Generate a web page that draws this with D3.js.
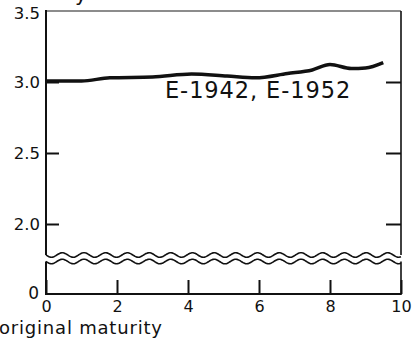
<!DOCTYPE html>
<html>
<head>
  <meta charset="utf-8">
  <title>yield by maturity</title>
  <style>
    * { padding: 0; margin: 0; }
    html, body { width: 414px; height: 343px; background: #fff; overflow: hidden; }
    svg { display: block; }
    text { font-family: "DejaVu Sans", sans-serif; fill: #111; }
    .axis .domain { display: none; }
    .axis line { stroke: #111; stroke-width: 2; }
  </style>
</head>
<body>
  <svg id="svg"></svg>
  <script src="https://cdnjs.cloudflare.com/ajax/libs/d3/7.8.5/d3.min.js"></script>
  <script>
    // values
    const maturity = [0, 1.0, 1.8, 3.0, 4.1, 5.1, 5.9, 6.8, 7.5, 8.0, 8.6, 9.0, 9.5];
    const yieldPct = [3.007, 3.007, 3.030, 3.035, 3.056, 3.042, 3.030, 3.060, 3.085, 3.123, 3.095, 3.099, 3.137];
    const xTicks = [0, 2, 4, 6, 8, 10];
    const yTicks = [2.0, 2.5, 3.0];
    const yTopTick = 3.5;
    const seriesLabel = 'E-1942, E-1952';
    const xTitle = 'original maturity';

    const dim = { width: 414, height: 343, left: 46, right: 401, top: 11, bottom: 294 };

    const svg = d3.select('#svg').attr('width', dim.width).attr('height', dim.height);

    const x = d3.scaleLinear().domain([0, 10]).range([dim.left, dim.right]);
    const y = d3.scaleLinear().domain([2.0, 3.5]).range([224, dim.top]);

    // break in the vertical scale
    const breakTop = 255, breakBottom = 261.5;

    // cut-off title fragment
    svg.append('text').attr('x', 75).attr('y', 1).style('font-size', '20px').text('y');

    // frame
    const frame = svg.append('g').attr('stroke', '#111').attr('fill', 'none');
    frame.append('line').attr('x1', x(0)).attr('x2', x(10)).attr('y1', y(yTopTick)).attr('y2', y(yTopTick))
      .attr('stroke', '#666').attr('stroke-width', 1.6);
    [x(0), x(10)].forEach((px, i) => {
      frame.append('line').attr('x1', px).attr('x2', px).attr('y1', y(yTopTick) - (i ? 0 : 1)).attr('y2', breakTop)
        .attr('stroke-width', i ? 1.6 : 2);
      frame.append('line').attr('x1', px).attr('x2', px).attr('y1', breakBottom).attr('y2', dim.bottom + 1)
        .attr('stroke-width', i ? 1.6 : 2);
    });
    frame.append('line').attr('x1', x(0) - 1).attr('x2', x(10)).attr('y1', dim.bottom).attr('y2', dim.bottom)
      .attr('stroke-width', 2);

    // wavy break lines
    const wave = d3.line().curve(d3.curveBasis);
    [breakTop, breakBottom].forEach(c => {
      const pts = d3.range(dim.left, dim.right + 0.5, 1).map(px => [px, c + 2.3 * Math.sin(2 * Math.PI * (px - dim.left) / 21.7)]);
      svg.append('path').attr('d', wave(pts)).attr('fill', 'none').attr('stroke', '#111').attr('stroke-width', 1.6);
    });

    // axes
    svg.append('g').attr('class', 'axis')
      .attr('transform', `translate(0, ${dim.bottom})`)
      .call(d3.axisBottom(x).tickValues(xTicks).tickSize(-14).tickPadding(7).tickFormat(d3.format('d')))
      .call(g => g.selectAll('text').style('font-size', '16px'));

    svg.append('g').attr('class', 'axis')
      .attr('transform', `translate(${dim.left}, 0)`)
      .call(d3.axisLeft(y).tickValues(yTicks).tickSize(-13).tickPadding(6).tickFormat(d3.format('.1f')))
      .call(g => g.selectAll('text').style('font-size', '16.5px'));

    svg.append('g').attr('class', 'axis')
      .attr('transform', `translate(${dim.right}, 0)`)
      .call(d3.axisRight(y).tickValues(yTicks).tickSize(-15).tickFormat(''));

    svg.append('text').attr('x', dim.left - 6).attr('y', y(yTopTick) + 2).attr('dy', '0.36em')
      .attr('text-anchor', 'end').style('font-size', '16.5px').text(d3.format('.1f')(yTopTick));

    svg.append('text').attr('x', dim.left - 7).attr('y', dim.bottom + 5)
      .attr('text-anchor', 'end').style('font-size', '17px').text('0');

    // series
    const line = d3.line().x(d => x(d[0])).y(d => y(d[1])).curve(d3.curveMonotoneX);
    svg.append('path')
      .datum(d3.zip(maturity, yieldPct))
      .attr('d', line)
      .attr('fill', 'none')
      .attr('stroke', '#111')
      .attr('stroke-width', 3.5)
      .attr('stroke-linejoin', 'round');

    svg.append('text').attr('x', 165).attr('y', 98)
      .style('font-size', '22.5px').style('letter-spacing', '0.9px').text(seriesLabel);

    svg.append('text').attr('x', -1).attr('y', 334)
      .style('font-size', '18px').style('letter-spacing', '0.8px').text(xTitle);
  </script>
</body>
</html>
